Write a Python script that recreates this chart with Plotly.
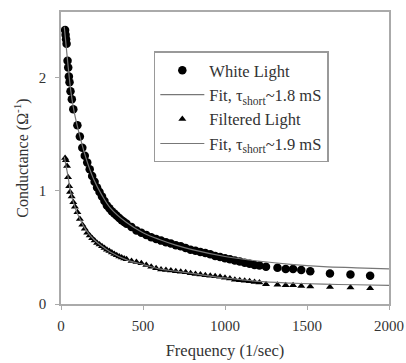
import plotly.graph_objects as go

# ---- data ----
white_freq = [25, 28, 31, 34, 40, 44, 48, 52, 58, 66, 75, 100, 115, 130, 145, 160, 175, 190,
              205, 220, 235, 250, 265, 280, 295, 310, 325, 340, 355, 370, 385, 400, 430, 460,
              490, 520, 550, 580, 610, 640, 670, 700, 730, 760, 790, 820, 850, 880, 910, 940,
              970, 1000, 1030, 1060, 1090, 1120, 1150, 1180, 1210, 1250, 1320, 1370, 1415,
              1465, 1520, 1640, 1765, 1885]
white_cond = [2.42, 2.38, 2.34, 2.30, 2.15, 2.09, 2.01, 1.96, 1.88, 1.81, 1.72, 1.58, 1.48,
              1.38, 1.31, 1.25, 1.19, 1.13, 1.08, 1.03, 0.99, 0.95, 0.91, 0.87, 0.845, 0.82,
              0.80, 0.78, 0.76, 0.74, 0.725, 0.71, 0.68, 0.65, 0.63, 0.61, 0.59, 0.575, 0.56,
              0.545, 0.535, 0.52, 0.51, 0.495, 0.48, 0.47, 0.46, 0.45, 0.44, 0.425, 0.415,
              0.405, 0.395, 0.385, 0.375, 0.365, 0.355, 0.345, 0.34, 0.33, 0.32, 0.31, 0.31,
              0.30, 0.29, 0.27, 0.26, 0.25]

filt_freq = [25, 30, 37, 43, 50, 55, 65, 75, 85, 100, 115, 130, 145, 160, 175, 190, 205, 220,
             235, 250, 265, 280, 295, 310, 325, 340, 355, 370, 385, 400, 430, 460, 490, 520,
             550, 580, 610, 640, 670, 700, 730, 760, 790, 820, 850, 880, 910, 940, 970, 1000,
             1030, 1060, 1090, 1120, 1150, 1180, 1210, 1250, 1320, 1370, 1415, 1465, 1520,
             1640, 1765, 1885]
filt_cond = [1.29, 1.27, 1.22, 1.12, 1.04, 0.99, 0.95, 0.90, 0.86, 0.81, 0.75, 0.70, 0.665,
             0.63, 0.605, 0.58, 0.56, 0.54, 0.525, 0.51, 0.495, 0.48, 0.468, 0.455, 0.442,
             0.43, 0.42, 0.41, 0.402, 0.395, 0.38, 0.37, 0.36, 0.345, 0.33, 0.315, 0.305,
             0.30, 0.295, 0.29, 0.285, 0.28, 0.272, 0.266, 0.26, 0.255, 0.25, 0.245, 0.24,
             0.232, 0.225, 0.215, 0.21, 0.205, 0.20, 0.195, 0.19, 0.175, 0.17, 0.165, 0.165,
             0.16, 0.155, 0.15, 0.145, 0.14]

fit_freq = [20, 40, 60, 80, 100, 150, 200, 250, 300, 400, 500, 600, 700, 800, 1000, 1200,
            1400, 1600, 1800, 2000]
fit_white = [2.45, 2.15, 1.88, 1.70, 1.57, 1.30, 1.10, 0.96, 0.85, 0.72, 0.63, 0.57, 0.52,
             0.48, 0.42, 0.38, 0.35, 0.33, 0.32, 0.31]
fit_filt = [1.30, 1.15, 0.98, 0.88, 0.80, 0.66, 0.57, 0.51, 0.46, 0.39, 0.35, 0.31, 0.29,
            0.27, 0.23, 0.20, 0.185, 0.175, 0.17, 0.165]

x_ticks = [0, 500, 1000, 1500, 2000]
y_ticks = [0, 1, 2]

FONT = "Liberation Serif"

fig = go.Figure()
fig.add_trace(go.Scatter(x=white_freq, y=white_cond, mode="markers", name="White Light",
                         marker=dict(symbol="circle", size=8.5, color="black")))
fig.add_trace(go.Scatter(x=fit_freq, y=fit_white, mode="lines",
                         name="Fit, τ<sub>short</sub>~1.8 mS",
                         line=dict(color="#777777", width=1.2, shape="spline")))
fig.add_trace(go.Scatter(x=filt_freq, y=filt_cond, mode="markers", name="Filtered Light",
                         marker=dict(symbol="triangle-up", size=7, color="black")))
fig.add_trace(go.Scatter(x=fit_freq, y=fit_filt, mode="lines",
                         name="Fit, τ<sub>short</sub>~1.9 mS",
                         line=dict(color="#777777", width=1.2, shape="spline")))

axis_common = dict(showgrid=False, zeroline=False, showline=True, mirror=True,
                   linecolor="#aaaaaa", linewidth=1.5, ticks="outside", ticklen=4,
                   tickcolor="#aaaaaa", automargin=False,
                   tickfont=dict(family=FONT, size=15, color="#333333"))

fig.update_layout(
    width=406, height=363,
    margin=dict(l=61, r=17, t=12, b=59),
    plot_bgcolor="white", paper_bgcolor="white",
    font=dict(family=FONT, size=16, color="#333333"),
    showlegend=True,
    legend=dict(x=0.283, y=0.865, xanchor="left", yanchor="top",
                bordercolor="#999999", borderwidth=1.5, bgcolor="white",
                itemwidth=44,
                font=dict(family=FONT, size=16.5, color="#333333")),
    xaxis=dict(range=[0, 2000], tickvals=x_ticks, ticklabelstandoff=3,
               title=dict(text="Frequency (1/sec)", font=dict(family=FONT, size=16.5),
                          standoff=12),
               **axis_common),
    yaxis=dict(range=[0, 2.58], tickvals=y_ticks, ticklabelstandoff=6,
               title=dict(text="Conductance (Ω<sup>-1</sup>)", font=dict(family=FONT, size=16),
                          standoff=6),
               **axis_common),
)

fig.write_html("out.html")
